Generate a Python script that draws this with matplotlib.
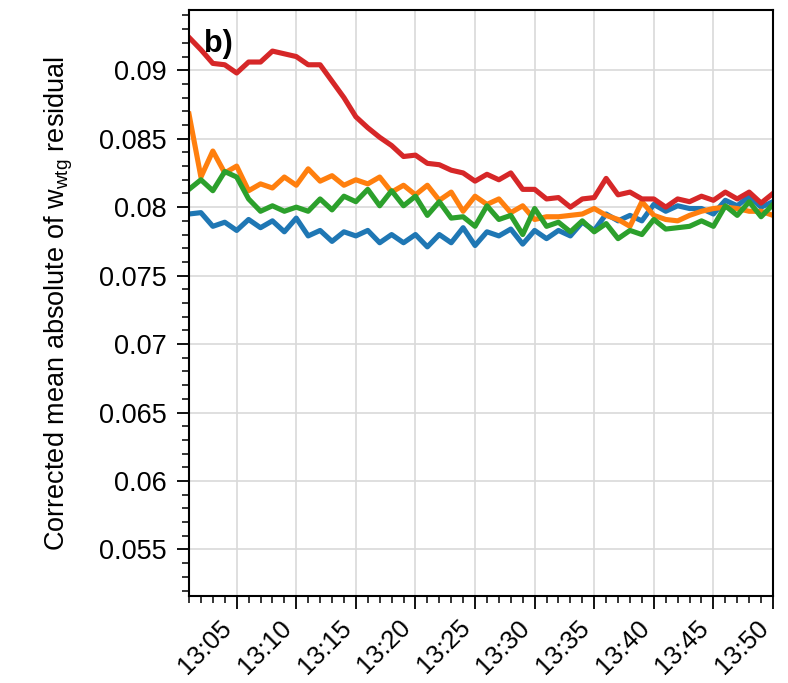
import matplotlib
matplotlib.use('Agg')
import matplotlib.pyplot as plt
import matplotlib.dates as mdates
from matplotlib.ticker import FuncFormatter, MultipleLocator
import pandas as pd

plt.rcParams['font.family'] = ['Liberation Sans', 'DejaVu Sans']
plt.rcParams['font.size'] = 19.5
plt.rcParams['mathtext.fontset'] = 'custom'
plt.rcParams['mathtext.rm'] = 'Liberation Sans'

# minutes 13:01 .. 13:50
times = pd.date_range('2020-01-01 13:01', periods=50, freq='min')

blue = [0.0795, 0.0796, 0.0786, 0.0789, 0.0783, 0.0791, 0.0785, 0.0790, 0.0782, 0.0792,
        0.0779, 0.0783, 0.0775, 0.0782, 0.0779, 0.0783, 0.0774, 0.0780, 0.0774, 0.0780,
        0.0771, 0.0780, 0.0774, 0.0785, 0.0772, 0.0782, 0.0779, 0.0784, 0.0773, 0.0783,
        0.0777, 0.0783, 0.0779, 0.0789, 0.0783, 0.0795, 0.0790, 0.0794, 0.0790, 0.0802,
        0.0797, 0.0801, 0.0799, 0.0799, 0.0795, 0.0805, 0.0801, 0.0808, 0.0800, 0.0804]

orange = [0.0868, 0.0822, 0.0841, 0.0825, 0.0830, 0.0812, 0.0817, 0.0814, 0.0822, 0.0816,
          0.0828, 0.0819, 0.0823, 0.0816, 0.0820, 0.0817, 0.0822, 0.0811, 0.0816, 0.0809,
          0.0816, 0.0805, 0.0811, 0.0797, 0.0808, 0.0802, 0.0806, 0.0796, 0.0801, 0.0791,
          0.0793, 0.0793, 0.0794, 0.0795, 0.0799, 0.0794, 0.0791, 0.0786, 0.0804, 0.0794,
          0.0791, 0.0790, 0.0794, 0.0797, 0.0799, 0.0800, 0.0799, 0.0797, 0.0797, 0.0794]

green = [0.0813, 0.0820, 0.0812, 0.0826, 0.0822, 0.0806, 0.0797, 0.0801, 0.0797, 0.0800,
         0.0797, 0.0806, 0.0798, 0.0808, 0.0804, 0.0813, 0.0801, 0.0812, 0.0801, 0.0808,
         0.0794, 0.0804, 0.0792, 0.0793, 0.0786, 0.0801, 0.0791, 0.0794, 0.0780, 0.0799,
         0.0786, 0.0789, 0.0782, 0.0790, 0.0782, 0.0788, 0.0777, 0.0783, 0.0780, 0.0791,
         0.0784, 0.0785, 0.0786, 0.0790, 0.0786, 0.0801, 0.0794, 0.0804, 0.0793, 0.0802]

red = [0.0924, 0.0915, 0.0905, 0.0904, 0.0898, 0.0906, 0.0906, 0.0914, 0.0912, 0.0910,
       0.0904, 0.0904, 0.0892, 0.0880, 0.0866, 0.0858, 0.0851, 0.0845, 0.0837, 0.0838,
       0.0832, 0.0831, 0.0827, 0.0825, 0.0819, 0.0824, 0.0820, 0.0825, 0.0813, 0.0813,
       0.0806, 0.0807, 0.0800, 0.0806, 0.0807, 0.0821, 0.0809, 0.0811, 0.0806, 0.0806,
       0.0800, 0.0806, 0.0804, 0.0808, 0.0805, 0.0811, 0.0806, 0.0811, 0.0803, 0.0810]

fig = plt.figure(figsize=(7.88, 6.83), dpi=100)
ax = fig.add_axes([189 / 788, 1 - 596 / 683, 584 / 788, 586 / 683])

for ys, c in zip([blue, orange, green, red], ['tab:blue', 'tab:orange', 'tab:green', 'tab:red']):
    ax.plot(times, ys, color=c, lw=3.7)

ax.set_xlim(times[0], times[-1])
ax.set_ylim(0.0516, 0.0944)

ax.xaxis.set_major_locator(mdates.MinuteLocator(byminute=range(0, 60, 5)))
ax.xaxis.set_minor_locator(mdates.MinuteLocator())
ax.xaxis.set_major_formatter(mdates.DateFormatter('%H:%M'))
ax.yaxis.set_major_locator(MultipleLocator(0.005))
ax.yaxis.set_minor_locator(MultipleLocator(0.001))
ax.yaxis.set_major_formatter(FuncFormatter(lambda v, p: '{:g}'.format(round(v, 4))))

ax.tick_params(which='major', length=9, width=1.3)
ax.tick_params(which='minor', length=5, width=1.1)
ax.tick_params(axis='y', pad=7)
ax.tick_params(axis='x', pad=5, labelsize=18.5)
plt.setp(ax.get_xticklabels(), rotation=45, ha='right')

ax.grid(True, which='major', color='#d9d9d9', lw=1.2)
ax.set_axisbelow(True)
for s in ax.spines.values():
    s.set_linewidth(1.5)

ax.set_ylabel('Corrected mean absolute of $\\mathrm{w_{wtg}}$ residual', labelpad=17)
ax.text(0.026, 0.968, 'b)', transform=ax.transAxes, fontweight='bold', fontsize=22,
        va='top', ha='left')

fig.savefig('out.png', dpi=100)
